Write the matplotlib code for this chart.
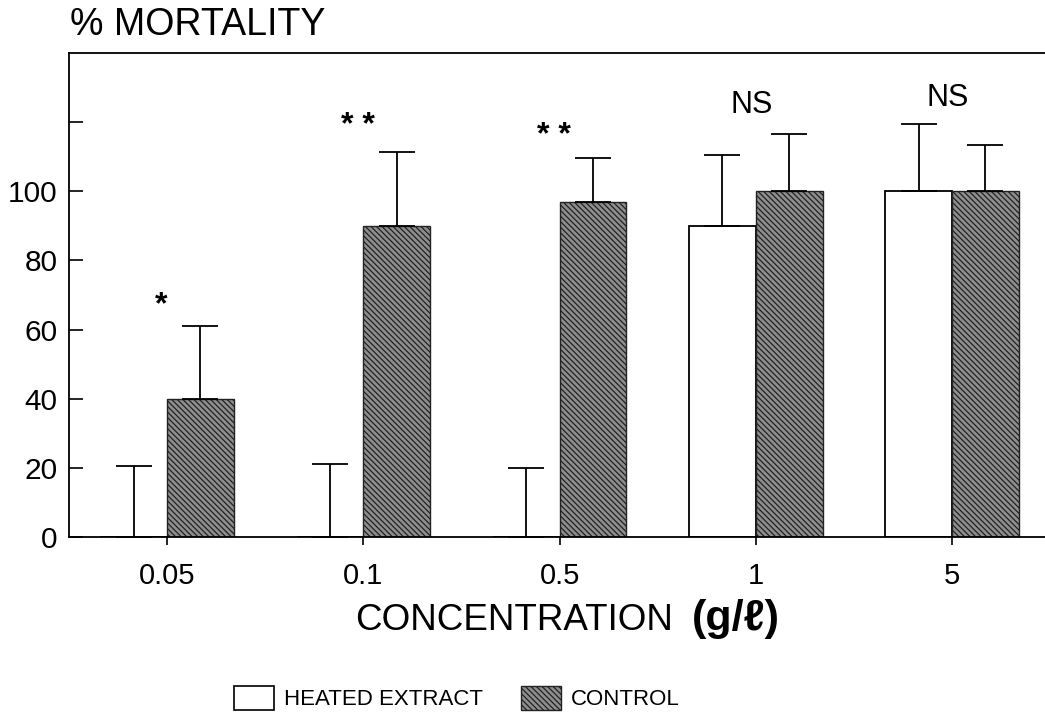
import matplotlib
matplotlib.use("Agg")
import matplotlib.pyplot as plt
import numpy as np
from matplotlib.patches import Patch

plt.rcParams['font.family'] = ['Liberation Sans', 'DejaVu Sans']
plt.rcParams['hatch.linewidth'] = 0.9

concentrations = ['0.05', '0.1', '0.5', '1', '5']
heated = [0, 0, 0, 90, 100]
heated_err = [20.5, 21, 20, 20.5, 19.5]
control = [40, 90, 97, 100, 100]
control_err = [21, 21.5, 12.5, 16.5, 13.5]
marks = ['*', '* *', '* *', 'NS', 'NS']
mark_y = [67, 119, 116, 125, 127]

fig = plt.figure(figsize=(10.45, 7.21), dpi=100)
ax = fig.add_axes([0.066, 0.2552, 0.939, 0.6713])

x = np.arange(len(concentrations))
w = 0.34
ctrl_color = '#8e8e8e'
ctrl_hatch = '\\\\\\\\\\\\'

ax.bar(x - w/2, heated, width=w, color='white', edgecolor='black', linewidth=1.3,
       yerr=[np.zeros(5), heated_err], capsize=13,
       error_kw=dict(elinewidth=1.3, capthick=1.3, ecolor='black'), zorder=2)
ax.bar(x + w/2, control, width=w, color=ctrl_color, edgecolor='#222222', linewidth=1.0,
       hatch=ctrl_hatch, yerr=[np.zeros(5), control_err], capsize=13,
       error_kw=dict(elinewidth=1.3, capthick=1.3, ecolor='black'), zorder=2)

for xi, m, my in zip(x, marks, mark_y):
    if m == 'NS':
        ax.text(xi - 0.02, my, m, ha='center', va='center', fontsize=22)
    else:
        ax.text(xi - 0.03, my, m, ha='center', va='center', fontsize=23, fontweight='bold')

ax.set_xlim(-0.5, 4.5)
ax.set_ylim(0, 140)
ax.set_yticks([0, 20, 40, 60, 80, 100, 120])
ax.set_yticklabels(['0', '20', '40', '60', '80', '100', ''])
ax.set_xticks(x)
ax.set_xticklabels(concentrations)
ax.tick_params(axis='y', direction='in', length=10, width=1.2, labelsize=21.5, pad=8)
ax.tick_params(axis='x', direction='out', length=6, width=1.2, labelsize=21, pad=12)
for s in ['left', 'top', 'bottom']:
    ax.spines[s].set_linewidth(1.3)
ax.spines['right'].set_visible(False)

fig.text(0.067, 0.951, '% MORTALITY', fontsize=27, ha='left', va='baseline')
fig.text(0.340, 0.126, 'CONCENTRATION', fontsize=26.5, ha='left', va='baseline')
fig.text(0.662, 0.126, '(g/ℓ)', fontsize=31, ha='left', va='baseline', fontweight='bold')

handles = [Patch(facecolor='white', edgecolor='black', linewidth=1.2),
           Patch(facecolor=ctrl_color, edgecolor='#222222', hatch=ctrl_hatch, linewidth=1.0)]
fig.legend(handles, ['HEATED EXTRACT', 'CONTROL'], loc='center', ncol=2,
           bbox_to_anchor=(0.437, 0.032), frameon=False, fontsize=16,
           handlelength=1.8, handleheight=1.3, handletextpad=0.45, columnspacing=1.7)

fig.savefig('out.png', dpi=100)
